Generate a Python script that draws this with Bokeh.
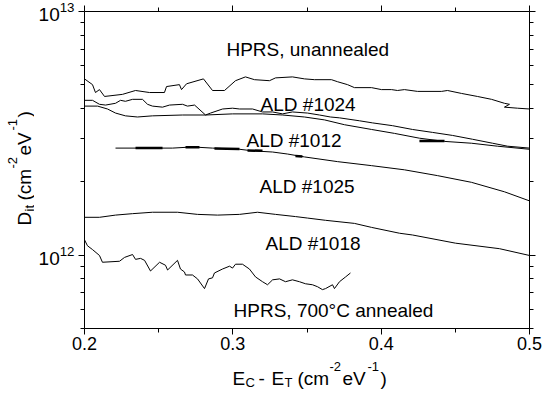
import math
from bokeh.plotting import figure
from bokeh.layouts import column, row
from bokeh.models import (Range1d, LinearAxis, LogAxis, FixedTicker, Label,
                          CustomJSTickFormatter)
from bokeh.embed import file_html
from bokeh.resources import INLINE
from bokeh.core.properties import value

# ---------------- data ----------------
x_major = [0.2, 0.3, 0.4, 0.5]
x_minor = [0.25, 0.35, 0.45]
y_major = [1e12, 1e13]
y_minor = [5e11, 6e11, 7e11, 8e11, 9e11, 2e12, 3e12, 4e12, 5e12, 6e12, 7e12, 8e12, 9e12]

hprs_un_x = [0.2000, 0.2054, 0.2074, 0.2101, 0.2135, 0.2256, 0.2344, 0.2438, 0.2539, 0.2553,
             0.2640, 0.2654, 0.2688, 0.2802, 0.2863, 0.2944, 0.3018, 0.3085, 0.3146, 0.3247,
             0.3288, 0.3402, 0.3483, 0.3551, 0.3665, 0.3706, 0.3773, 0.3820, 0.3935, 0.4002,
             0.4070, 0.4110, 0.4157, 0.4245, 0.4407, 0.4447, 0.4542, 0.4649, 0.4744, 0.4831,
             0.4865, 0.4831, 0.4919, 0.5000]
hprs_un_y = [5.29, 5.01, 4.65, 4.78, 4.48, 4.57, 4.74, 4.65, 4.65, 4.92,
             5.01, 4.78, 5.05, 5.29, 4.74, 4.74, 5.20, 5.39, 5.25, 5.20,
             5.34, 5.39, 5.29, 5.25, 5.25, 5.15, 5.01, 4.87, 4.87, 4.78,
             4.78, 4.74, 4.78, 4.70, 4.70, 4.74, 4.61, 4.48, 4.36, 4.20,
             4.16, 4.05, 4.01, 3.98]

ald1024_x = [0.2000, 0.2054, 0.2101, 0.2142, 0.2209, 0.2243, 0.2276, 0.2324, 0.2391, 0.2425,
             0.2458, 0.2526, 0.2573, 0.2661, 0.2694, 0.2742, 0.2816, 0.2850, 0.2931, 0.2998,
             0.3045, 0.3133, 0.3200, 0.3268, 0.3335, 0.3402, 0.3503, 0.3584, 0.3658, 0.3719,
             0.3854, 0.3942, 0.4076, 0.4211, 0.4346, 0.4481, 0.4616, 0.4751, 0.4852, 0.5000]
ald1024_y = [4.32, 4.32, 4.16, 4.13, 4.20, 4.32, 4.28, 4.36, 4.36, 4.16,
             4.09, 4.05, 4.13, 4.16, 4.09, 4.13, 3.76, 3.83, 3.98, 4.01,
             3.98, 3.98, 3.87, 3.87, 3.80, 3.87, 3.83, 3.76, 3.69, 3.66,
             3.56, 3.49, 3.40, 3.28, 3.19, 3.10, 2.99, 2.88, 2.80, 2.75]

ald1012_x = [0.2000, 0.2088, 0.2155, 0.2209, 0.2276, 0.2357, 0.2458, 0.2661, 0.2816, 0.2998,
             0.3200, 0.3335, 0.3483, 0.3618, 0.3753, 0.3935, 0.4090, 0.4258, 0.4427, 0.4609,
             0.4784, 0.5000]
ald1012_y = [4.09, 4.09, 3.98, 3.83, 3.73, 3.69, 3.73, 3.76, 3.76, 3.80,
             3.80, 3.76, 3.69, 3.59, 3.43, 3.28, 3.16, 3.02, 2.93, 2.88,
             2.80, 2.72]

ald1025_x = [0.2209, 0.2371, 0.2593, 0.2728, 0.2863, 0.3045, 0.3133, 0.3268, 0.3369, 0.3483,
             0.3706, 0.3935, 0.4157, 0.4380, 0.4609, 0.4831, 0.5000]
ald1025_y = [2.75, 2.75, 2.75, 2.78, 2.75, 2.72, 2.68, 2.65, 2.60, 2.53,
             2.42, 2.33, 2.24, 2.12, 1.99, 1.82, 1.67]

ald1018_x = [0.2000, 0.2101, 0.2209, 0.2324, 0.2458, 0.2627, 0.2762, 0.2897, 0.3045, 0.3166,
             0.3288, 0.3422, 0.3503, 0.3625, 0.3820, 0.3935, 0.4124, 0.4211, 0.4501, 0.4798,
             0.5000]
ald1018_y = [1.43, 1.43, 1.46, 1.48, 1.50, 1.50, 1.47, 1.46, 1.47, 1.50,
             1.47, 1.44, 1.42, 1.39, 1.35, 1.30, 1.23, 1.21, 1.12, 1.063,
             0.997]

hprs_an_x = [0.2000, 0.2020, 0.2054, 0.2101, 0.2121, 0.2236, 0.2270, 0.2324, 0.2344, 0.2378,
             0.2405, 0.2445, 0.2506, 0.2546, 0.2560, 0.2627, 0.2647, 0.2674, 0.2681, 0.2728,
             0.2762, 0.2809, 0.2836, 0.2863, 0.2876, 0.2930, 0.2978, 0.2998, 0.3018, 0.3065,
             0.3112, 0.3153, 0.3200, 0.3234, 0.3268, 0.3315, 0.3355, 0.3402, 0.3449, 0.3490,
             0.3537, 0.3571, 0.3604, 0.3625, 0.3672, 0.3685, 0.3719, 0.3760, 0.3793]
hprs_an_y = [1.156, 1.093, 1.054, 0.997, 0.935, 0.944, 0.979, 1.006, 0.961, 0.970,
             0.952, 0.861, 0.935, 0.909, 0.869, 0.952, 0.877, 0.853, 0.829, 0.829,
             0.799, 0.729, 0.799, 0.807, 0.845, 0.877, 0.901, 0.885, 0.918, 0.918,
             0.877, 0.814, 0.778, 0.756, 0.792, 0.799, 0.778, 0.792, 0.778, 0.763,
             0.756, 0.742, 0.722, 0.729, 0.756, 0.729, 0.778, 0.814, 0.845]

# short thick overlapping pieces visible on two curves
thick_xs = [[0.2344, 0.2526], [0.2681, 0.2775], [0.2876, 0.3045], [0.3099, 0.3200],
            [0.3422, 0.3469], [0.4258, 0.4427]]
thick_ys = [[2.75, 2.75], [2.77, 2.77], [2.74, 2.73], [2.69, 2.68],
            [2.55, 2.54], [2.94, 2.94]]

SCALE = 1e12

label_text = ["HPRS, unannealed", "ALD #1024", "ALD #1012", "ALD #1025", "ALD #1018",
              "HPRS, 700\u00b0C annealed"]
label_x = [0.2957, 0.3187, 0.3092, 0.3180, 0.3220, 0.3005]
label_y = [6.98, 4.16, 2.96, 1.92, 1.12, 0.590]

# ---------------- layout sizes ----------------
FONT = "Liberation Sans"
TOTAL_W = 542
YT_W = 34                 # strip for the y title
MAIN_H = 356              # main plot height
XT_H = 33                 # strip for the x title
PAGE = 8                  # body margin
FRAME_TOP_FIG = 11        # frame top inside the main figure
FRAME_BOTTOM_FIG = 328    # frame bottom inside the main figure

p = figure(width=TOTAL_W - YT_W, height=MAIN_H, x_range=Range1d(0.2, 0.5),
           y_range=Range1d(5e11, 1e13), y_axis_type="log", title=None,
           output_backend="svg", toolbar_location=None,
           min_border_left=84 - YT_W, min_border_right=13, min_border_top=FRAME_TOP_FIG,
           min_border_bottom=MAIN_H - FRAME_BOTTOM_FIG)
p.xgrid.visible = False
p.ygrid.visible = False
p.outline_line_color = None
p.background_fill_color = "white"
p.border_fill_color = "white"


def style_axis(ax, labels=True, size="19px"):
    ax.axis_line_color = "black"
    ax.axis_line_width = 1
    ax.major_tick_line_color = "black"
    ax.minor_tick_line_color = "black"
    ax.major_tick_in = 0
    ax.major_tick_out = 6
    ax.minor_tick_in = 0
    ax.minor_tick_out = 4
    if labels:
        ax.major_label_text_font = FONT
        ax.major_label_text_font_size = size
        ax.major_label_text_color = "black"
    else:
        ax.major_label_text_font_size = "0px"
        ax.major_label_standoff = 0


xa = p.xaxis[0]
xa.ticker = FixedTicker(ticks=x_major, minor_ticks=x_minor)
style_axis(xa, size="18px")
xa.major_label_standoff = 2

ya = p.yaxis[0]
ya.ticker = FixedTicker(ticks=y_major, minor_ticks=y_minor)
style_axis(ya)
ya.major_label_standoff = 4

top = LinearAxis(ticker=FixedTicker(ticks=x_major, minor_ticks=x_minor),
                 formatter=CustomJSTickFormatter(code="return ''"))
style_axis(top, labels=False)
p.add_layout(top, "above")

right = LogAxis(ticker=FixedTicker(ticks=y_major, minor_ticks=y_minor),
                formatter=CustomJSTickFormatter(code="return ''"))
style_axis(right, labels=False)
p.add_layout(right, "right")

series = [(hprs_un_x, hprs_un_y), (ald1024_x, ald1024_y), (ald1012_x, ald1012_y),
          (ald1025_x, ald1025_y), (ald1018_x, ald1018_y), (hprs_an_x, hprs_an_y)]
for xs, ys in series:
    p.line(xs, [v * SCALE for v in ys], line_color="black", line_width=1)

p.multi_line(xs=thick_xs, ys=[[v * SCALE for v in seg] for seg in thick_ys],
             line_color="black", line_width=2.5)

p.text(x=label_x, y=[v * SCALE for v in label_y], text=label_text,
       text_font=value(FONT), text_font_size="19px", text_color="black",
       text_align="left", text_baseline="alphabetic")


# ---------------- axis titles (text pieces with sub/superscripts) ----------------
def strip(w, h):
    f = figure(width=w, height=h, x_range=Range1d(0, w), y_range=Range1d(0, h),
               title=None, output_backend="svg", toolbar_location=None,
               x_axis_location=None, y_axis_location=None,
               min_border=0, min_border_left=0, min_border_right=0,
               min_border_top=0, min_border_bottom=0)
    f.xgrid.visible = False
    f.ygrid.visible = False
    f.outline_line_color = None
    f.background_fill_color = "white"
    f.border_fill_color = "white"
    return f


def piece(f, txt, sx, sy, size, angle=0.0):
    f.add_layout(Label(x=sx, y=sy, x_units="screen", y_units="screen", text=txt,
                       text_font=FONT, text_font_size=f"{size}px", text_color="black",
                       text_align="left", text_baseline="alphabetic", angle=angle))


# y title strip (its frame lines up with the main frame in the row);
# rotated D_it (cm^-2eV^-1)
yt = strip(YT_W, MAIN_H)
A = math.pi / 2
Y_ORIGIN = PAGE + FRAME_BOTTOM_FIG   # page y of the strip's frame bottom
for txt, px, py, sz in [("D", 32, 233, 19), ("it", 37, 219, 13), ("(cm", 32, 208, 19),
                        ("-2", 20, 176, 13), ("eV", 32, 163, 19), ("-1", 20, 138, 13),
                        (")", 32, 125, 19)]:
    piece(yt, txt, px - PAGE, Y_ORIGIN - py, sz, A)

# x title strip: page y (8+MAIN_H)..(8+MAIN_H+XT_H); E_C-E_T (cm^-2eV^-1)
xt = strip(TOTAL_W, XT_H)
for txt, px, py, sz in [("E", 240, 386, 19), ("C", 253, 390, 13), ("-", 266, 386, 19),
                        ("E", 279, 386, 19), ("T", 292, 390, 13), ("(cm", 305, 386, 19),
                        ("-2", 337, 374, 13), ("eV", 350, 386, 19), ("-1", 375, 374, 13),
                        (")", 388, 386, 19)]:
    piece(xt, txt, px - PAGE, (PAGE + MAIN_H + XT_H) - py, sz)

layout = column(row(yt, p, spacing=0), xt, spacing=0)
open("out.html", "w").write(file_html(layout, INLINE))
